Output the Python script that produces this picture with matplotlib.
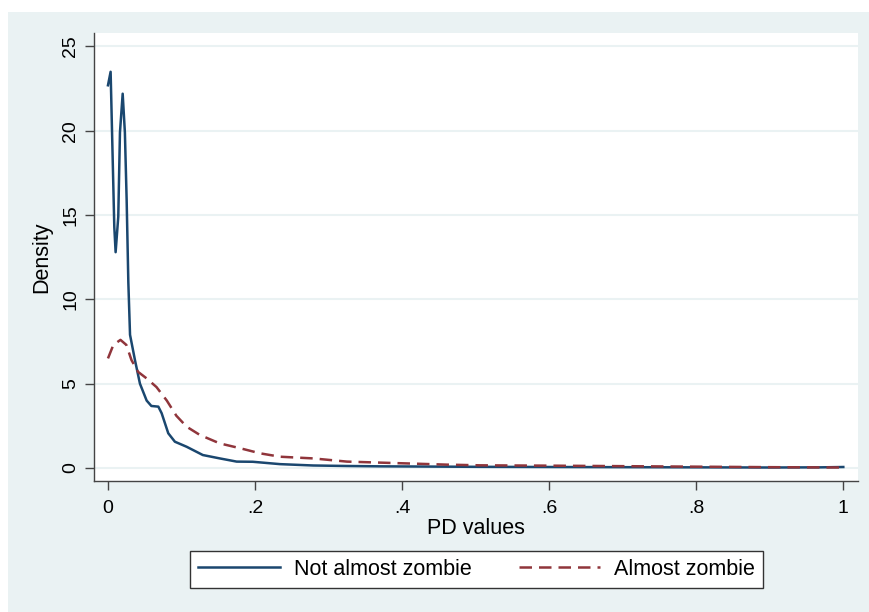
import matplotlib.pyplot as plt
from matplotlib.patches import Rectangle

plt.rcParams['font.family'] = ['Liberation Sans', 'DejaVu Sans']

# kernel density
pd_not = [0.0, 0.0036, 0.0086, 0.0104, 0.014, 0.0163, 0.020, 0.023, 0.0254, 0.0277,
          0.030, 0.0367, 0.0435, 0.0526, 0.059, 0.0685, 0.073, 0.082, 0.091, 0.107,
          0.129, 0.152, 0.175, 0.197, 0.234, 0.279, 0.325, 0.37, 0.416, 0.461,
          0.506, 0.6, 0.7, 0.8, 0.9, 0.97, 1.0]
dens_not = [22.7, 23.5, 14.3, 12.8, 14.9, 19.9, 22.2, 19.9, 15.9, 11.0,
            7.9, 6.4, 5.0, 4.0, 3.68, 3.64, 3.25, 2.06, 1.56, 1.26,
            0.77, 0.57, 0.38, 0.37, 0.23, 0.15, 0.12, 0.10, 0.09, 0.08,
            0.07, 0.06, 0.05, 0.04, 0.03, 0.04, 0.06]

pd_alm = [0.0, 0.0073, 0.017, 0.025, 0.032, 0.041, 0.053, 0.066, 0.080, 0.093,
          0.107, 0.125, 0.152, 0.180, 0.207, 0.234, 0.279, 0.325, 0.37, 0.416,
          0.461, 0.506, 0.6, 0.7, 0.8, 0.9, 1.0]
dens_alm = [6.5, 7.3, 7.6, 7.3, 6.4, 5.7, 5.3, 4.8, 4.0, 3.1,
            2.45, 1.96, 1.46, 1.17, 0.87, 0.67, 0.57, 0.38, 0.32, 0.26,
            0.2, 0.16, 0.14, 0.11, 0.08, 0.05, 0.03]

xticks = [0, 0.2, 0.4, 0.6, 0.8, 1.0]
xlabels = ['0', '.2', '.4', '.6', '.8', '1']
yticks = [0, 5, 10, 15, 20, 25]

bg = '#eaf2f3'
navy = '#1a476f'
maroon = '#90353b'

fig = plt.figure(figsize=(8.7, 6.12), dpi=100, facecolor='white')
fig.patches.append(Rectangle((8 / 870, 0), 1, 1 - 12 / 612, transform=fig.transFigure,
                             facecolor=bg, edgecolor='none', zorder=-5))

ax = fig.add_axes([94 / 870, 131 / 612, 764 / 870, 448 / 612])
ax.set_zorder(2)
ax.set_facecolor('white')

ax.plot(pd_not, dens_not, color=navy, lw=1.8, label='Not almost zombie')
ax.plot(pd_alm, dens_alm, color=maroon, lw=1.8, dashes=(5, 2.8), label='Almost zombie')

ax.set_xlim(-0.019, 1.020)
ax.set_ylim(-0.77, 25.8)
ax.set_xticks(xticks)
ax.set_xticklabels(xlabels)
ax.set_yticks(yticks)
ax.set_yticklabels([str(v) for v in yticks], rotation=90, va='center')
ax.yaxis.grid(True, color=bg, lw=1.5)
ax.set_axisbelow(True)

for s in ['top', 'right']:
    ax.spines[s].set_visible(False)
for s in ['left', 'bottom']:
    ax.spines[s].set_color('#444444')
    ax.spines[s].set_linewidth(1.0)
ax.tick_params(direction='out', length=6.5, width=1, color='#444444',
               labelsize=14, labelcolor='black')
ax.tick_params(axis='x', pad=7)
ax.tick_params(axis='y', pad=4)

ax.set_xlabel('PD values', fontsize=15.5, labelpad=1)
ax.set_ylabel('Density', fontsize=15.5)
ax.yaxis.set_label_coords(-0.054, 0.5)

leg = fig.legend(loc='center', bbox_to_anchor=(476.5 / 870, 1 - 569.5 / 612), ncol=2,
                 fontsize=15.5, frameon=True, fancybox=False, edgecolor='#333333',
                 framealpha=1, handlelength=3.8, columnspacing=2.2, handletextpad=0.65,
                 borderpad=0.35, borderaxespad=0)
leg.get_frame().set_linewidth(1.0)

fig.savefig('out.png', dpi=100, facecolor=fig.get_facecolor())
